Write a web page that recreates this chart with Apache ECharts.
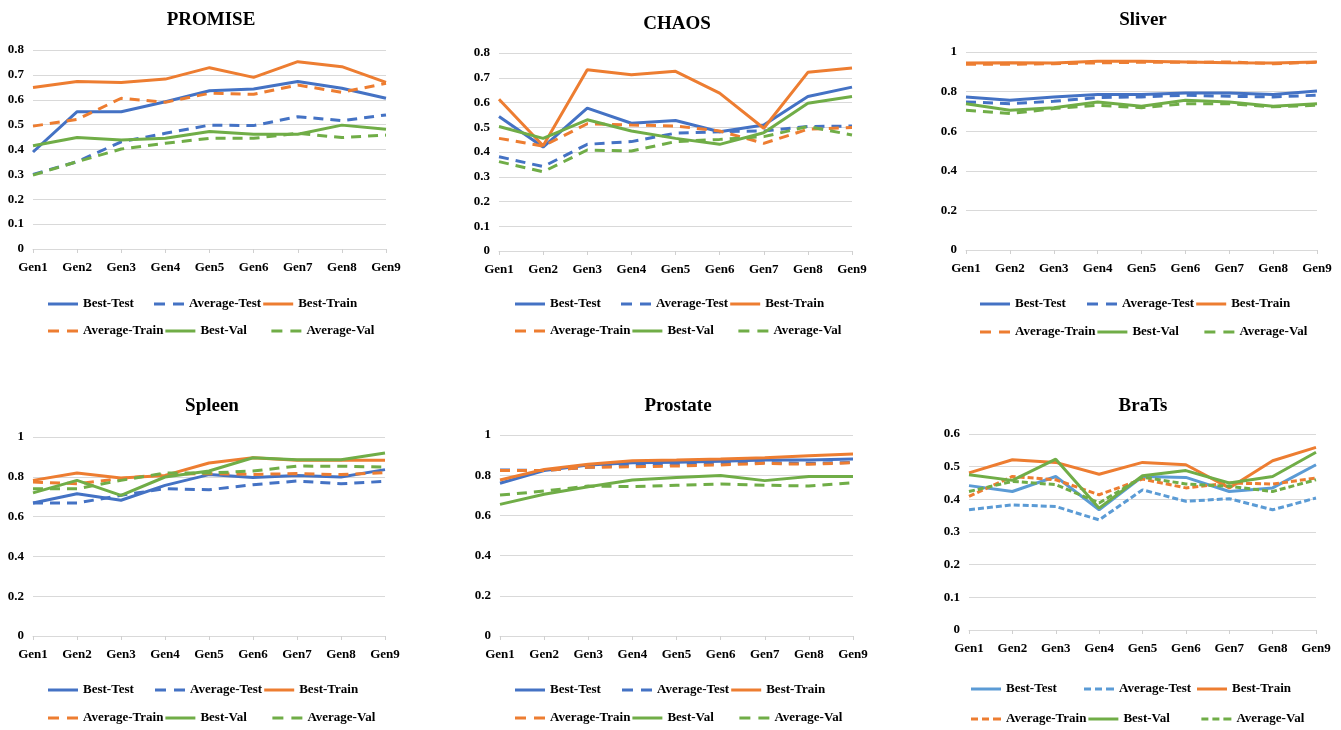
<!DOCTYPE html>
<html>
<head>
<meta charset="utf-8">
<title>Gen curves</title>
<script src="https://cdn.jsdelivr.net/npm/echarts@6/dist/echarts.min.js"></script>
<style>
  html, body {margin: 0; padding: 0; background: #fff;}
  #chart {width: 1341px; height: 730px;}
</style>
</head>
<body>
<div id="chart"></div>
<script>
  /******************/
  //region    //data

  const gens = ['Gen1', 'Gen2', 'Gen3', 'Gen4', 'Gen5', 'Gen6', 'Gen7', 'Gen8', 'Gen9'];
  const seriesNames = ['Best-Test', 'Average-Test', 'Best-Train', 'Average-Train', 'Best-Val', 'Average-Val'];

  // PROMISE
  const promiseBestTest = [0.39, 0.552, 0.552, 0.592, 0.636, 0.643, 0.673, 0.646, 0.606];
  const promiseAvgTest = [0.30, 0.351, 0.431, 0.465, 0.498, 0.496, 0.532, 0.516, 0.539];
  const promiseBestTrain = [0.649, 0.673, 0.669, 0.683, 0.729, 0.69, 0.753, 0.733, 0.67];
  const promiseAvgTrain = [0.494, 0.521, 0.606, 0.59, 0.626, 0.622, 0.659, 0.63, 0.666];
  const promiseBestVal = [0.415, 0.448, 0.438, 0.445, 0.472, 0.461, 0.461, 0.498, 0.481];
  const promiseAvgVal = [0.297, 0.351, 0.402, 0.425, 0.445, 0.445, 0.465, 0.448, 0.458];

  // CHAOS
  const chaosBestTest = [0.543, 0.42, 0.577, 0.516, 0.527, 0.482, 0.509, 0.624, 0.662];
  const chaosAvgTest = [0.381, 0.341, 0.431, 0.442, 0.476, 0.482, 0.485, 0.503, 0.505];
  const chaosBestTrain = [0.613, 0.425, 0.732, 0.712, 0.726, 0.638, 0.496, 0.722, 0.739];
  const chaosAvgTrain = [0.455, 0.424, 0.514, 0.509, 0.505, 0.485, 0.435, 0.492, 0.499];
  const chaosBestVal = [0.503, 0.455, 0.53, 0.485, 0.455, 0.431, 0.478, 0.597, 0.624];
  const chaosAvgVal = [0.361, 0.32, 0.408, 0.404, 0.442, 0.451, 0.462, 0.503, 0.469];

  // Sliver
  const sliverBestTest = [0.773, 0.756, 0.773, 0.785, 0.785, 0.793, 0.793, 0.785, 0.803];
  const sliverAvgTest = [0.748, 0.739, 0.751, 0.77, 0.773, 0.782, 0.776, 0.773, 0.782];
  const sliverBestTrain = [0.945, 0.946, 0.945, 0.953, 0.953, 0.95, 0.946, 0.945, 0.95];
  const sliverAvgTrain = [0.938, 0.938, 0.941, 0.945, 0.948, 0.948, 0.95, 0.941, 0.948];
  const sliverBestVal = [0.739, 0.706, 0.719, 0.748, 0.726, 0.756, 0.748, 0.726, 0.739];
  const sliverAvgVal = [0.706, 0.689, 0.714, 0.731, 0.719, 0.739, 0.739, 0.723, 0.731];

  // Spleen
  const spleenBestTest = [0.668, 0.715, 0.682, 0.757, 0.811, 0.796, 0.807, 0.799, 0.836];
  const spleenAvgTest = [0.668, 0.668, 0.707, 0.74, 0.735, 0.76, 0.779, 0.765, 0.777];
  const spleenBestTrain = [0.782, 0.819, 0.794, 0.807, 0.869, 0.896, 0.883, 0.883, 0.883];
  const spleenAvgTrain = [0.774, 0.765, 0.791, 0.812, 0.816, 0.812, 0.816, 0.811, 0.821];
  const spleenBestVal = [0.719, 0.782, 0.707, 0.799, 0.829, 0.896, 0.886, 0.886, 0.92];
  const spleenAvgVal = [0.74, 0.74, 0.782, 0.819, 0.819, 0.829, 0.854, 0.853, 0.849];

  // Prostate
  const prostateBestTest = [0.76, 0.823, 0.851, 0.862, 0.864, 0.869, 0.876, 0.876, 0.881];
  const prostateAvgTest = [0.826, 0.823, 0.839, 0.851, 0.854, 0.859, 0.862, 0.859, 0.864];
  const prostateBestTrain = [0.776, 0.829, 0.854, 0.872, 0.876, 0.881, 0.887, 0.897, 0.905];
  const prostateAvgTrain = [0.823, 0.823, 0.839, 0.842, 0.846, 0.851, 0.859, 0.854, 0.862];
  const prostateBestVal = [0.655, 0.705, 0.743, 0.776, 0.789, 0.798, 0.773, 0.793, 0.793];
  const prostateAvgVal = [0.701, 0.721, 0.746, 0.743, 0.75, 0.756, 0.75, 0.746, 0.763];

  // BraTs
  const bratsBestTest = [0.442, 0.424, 0.47, 0.368, 0.47, 0.467, 0.424, 0.435, 0.506];
  const bratsAvgTest = [0.368, 0.383, 0.378, 0.337, 0.429, 0.394, 0.402, 0.368, 0.404];
  const bratsBestTrain = [0.481, 0.521, 0.513, 0.477, 0.513, 0.506, 0.435, 0.518, 0.559];
  const bratsAvgTrain = [0.409, 0.47, 0.46, 0.414, 0.462, 0.435, 0.45, 0.447, 0.465];
  const bratsBestVal = [0.475, 0.458, 0.523, 0.373, 0.472, 0.488, 0.45, 0.47, 0.544];
  const bratsAvgVal = [0.424, 0.455, 0.445, 0.389, 0.468, 0.447, 0.44, 0.424, 0.46];

  //endregion

  /******************/
  //region    //layout

  const BLUE = '#4472C4', ORANGE = '#ED7D31', GREEN = '#70AD47', LIGHT_BLUE = '#5B9BD5';
  const FONT = '"Liberation Serif", "Times New Roman", serif';

  // legend swatches: solid bar, long dash, short dash
  const ICON_SOLID = 'path://M0,0h30v3h-30z';
  const ICON_DASH = 'path://M0,0h11v3h-11z M19,0h11v3h-11z';
  const ICON_SYSDASH = 'path://M0,0h7v3h-7z M11,0h7v3h-7z M22,0h8v3h-8z';

  let panels = [
    {
      title: 'PROMISE', cx: 206, ty: 6, max: 0.8, step: 0.1,
      grid: {left: 33, top: 50, width: 353, height: 199},
      legend: {left: 48, rows: [304, 331], textWidth: 69},
      data: [promiseBestTest, promiseAvgTest, promiseBestTrain, promiseAvgTrain, promiseBestVal, promiseAvgVal],
    },
    {
      title: 'CHAOS', cx: 672, ty: 10, max: 0.8, step: 0.1,
      grid: {left: 499, top: 53, width: 353, height: 198},
      legend: {left: 515, rows: [304, 331], textWidth: 69},
      data: [chaosBestTest, chaosAvgTest, chaosBestTrain, chaosAvgTrain, chaosBestVal, chaosAvgVal],
    },
    {
      title: 'Sliver', cx: 1138, ty: 6, max: 1, step: 0.2,
      grid: {left: 966, top: 52, width: 351, height: 198},
      legend: {left: 980, rows: [304, 332], textWidth: 70},
      data: [sliverBestTest, sliverAvgTest, sliverBestTrain, sliverAvgTrain, sliverBestVal, sliverAvgVal],
    },
    {
      title: 'Spleen', cx: 207, ty: 392, max: 1, step: 0.2,
      grid: {left: 33, top: 437, width: 352, height: 199},
      legend: {left: 48, rows: [690, 718], textWidth: 70},
      data: [spleenBestTest, spleenAvgTest, spleenBestTrain, spleenAvgTrain, spleenBestVal, spleenAvgVal],
    },
    {
      title: 'Prostate', cx: 673, ty: 392, max: 1, step: 0.2,
      grid: {left: 500, top: 435, width: 353, height: 201},
      legend: {left: 515, rows: [690, 718], textWidth: 70},
      data: [prostateBestTest, prostateAvgTest, prostateBestTrain, prostateAvgTrain, prostateBestVal, prostateAvgVal],
    },
    {
      title: 'BraTs', cx: 1138, ty: 392, max: 0.6, step: 0.1, sys: true,
      grid: {left: 969, top: 434, width: 347, height: 196},
      legend: {left: 971, rows: [689, 719], textWidth: 76},
      data: [bratsBestTest, bratsAvgTest, bratsBestTrain, bratsAvgTrain, bratsBestVal, bratsAvgVal],
    },
  ];

  //endregion

  /******************/
  //region    //function

  function lineLook(i, sys) {
    let color = [BLUE, BLUE, ORANGE, ORANGE, GREEN, GREEN][i];
    if (sys && i < 2) color = LIGHT_BLUE;
    let dashed = i % 2 === 1;
    return {
      color: color,
      type: dashed ? (sys ? [6, 3] : [10, 7]) : 'solid',
      icon: dashed ? (sys ? ICON_SYSDASH : ICON_DASH) : ICON_SOLID,
    };
  }

  function buildOption() {
    let option = {
      animation: false,
      title: [], grid: [], xAxis: [], yAxis: [], legend: [], series: [],
    };

    panels.forEach((p, k) => {
      option.title.push({
        text: p.title,
        left: p.cx,
        top: p.ty,
        textAlign: 'center',
        textStyle: {fontFamily: FONT, fontWeight: 'bold', fontSize: 19, color: '#000'},
      });

      option.grid.push(Object.assign({containLabel: false}, p.grid));

      option.xAxis.push({
        type: 'category',
        gridIndex: k,
        data: gens,
        boundaryGap: false,
        axisLine: {show: true, lineStyle: {color: '#d9d9d9', width: 1}},
        axisTick: {show: true, length: 4, lineStyle: {color: '#d0d0d0'}},
        axisLabel: {margin: 12, fontFamily: FONT, fontWeight: 'bold', fontSize: 13, color: '#000'},
        splitLine: {show: false},
      });

      option.yAxis.push({
        type: 'value',
        gridIndex: k,
        min: 0,
        max: p.max,
        interval: p.step,
        axisLine: {show: false},
        axisTick: {show: false},
        axisLabel: {
          margin: 9, fontFamily: FONT, fontWeight: 'bold', fontSize: 13, color: '#000',
          formatter: v => String(+v.toFixed(1)),
        },
        splitLine: {lineStyle: {color: '#d9d9d9', width: 1}},
      });

      // two legend rows, three fixed-width columns each (rows[] = centre y)
      [[0, 1, 2], [3, 4, 5]].forEach((row, r) => {
        option.legend.push({
          left: p.legend.left,
          top: p.legend.rows[r] - 8,
          orient: 'horizontal',
          padding: 0,
          itemWidth: 30,
          itemHeight: 3,
          itemGap: 2,
          selectedMode: false,
          textStyle: {
            fontFamily: FONT, fontWeight: 'bold', fontSize: 13, color: '#000',
            width: p.legend.textWidth, lineHeight: 16,
          },
          data: row.map(i => {
            let look = lineLook(i, p.sys);
            return {
              name: seriesNames[i],
              icon: look.icon,
              itemStyle: {color: look.color, borderWidth: 0},
            };
          }),
        });
      });

      p.data.forEach((values, i) => {
        let look = lineLook(i, p.sys);
        option.series.push({
          name: seriesNames[i],
          type: 'line',
          xAxisIndex: k,
          yAxisIndex: k,
          data: values,
          symbol: 'none',
          color: look.color,
          lineStyle: {color: look.color, width: 3, type: look.type},
        });
      });
    });

    return option;
  }

  //endregion

  let chart = echarts.init(document.getElementById('chart'));
  chart.setOption(buildOption());
</script>
</body>
</html>
